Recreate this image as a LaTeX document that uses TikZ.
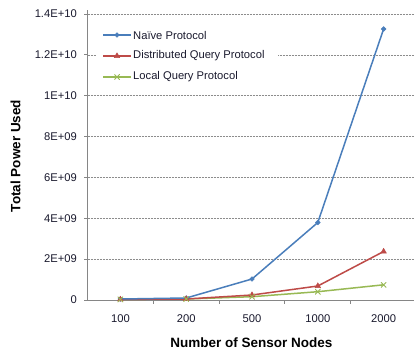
\documentclass[tikz,border=0pt]{standalone}
\usepackage{fontspec}
\setmainfont{Liberation Sans}
\usetikzlibrary{shapes.geometric}
\definecolor{cblue}{HTML}{4A7EBB}
\definecolor{cred}{HTML}{BE4B48}
\definecolor{cgreen}{HTML}{98B954}
\definecolor{caxis}{HTML}{868686}
\definecolor{cgrid}{HTML}{8C8C8C}
\definecolor{ctext}{HTML}{1A1A2E}
\tikzset{
  grid/.style={draw=cgrid, dash pattern=on 2pt off 1pt, line width=0.6pt},
  axisline/.style={draw=caxis, line width=0.9pt},
  ticklab/.style={font=\fontsize{11.2}{13}\selectfont, text=ctext, inner sep=0pt},
  axtitle/.style={font=\bfseries\fontsize{13.5}{15}\selectfont, text=black, inner sep=0pt},
  legtext/.style={font=\fontsize{11.2}{13}\selectfont, text=ctext, anchor=west, inner sep=0pt},
  sblue/.style={draw=cblue, line width=1.5pt, line join=round},
  sred/.style={draw=cred, line width=1.5pt, line join=round},
  sgreen/.style={draw=cgreen, line width=1.5pt, line join=round},
  mdia/.style={diamond, fill=cblue, draw=cblue, inner sep=0pt, minimum size=5pt},
  mtri/.style={regular polygon, regular polygon sides=3, fill=cred, draw=cred, inner sep=0pt, minimum size=6.5pt},
  mx/.style={inner sep=0pt, minimum size=5.5pt, path picture={
      \draw[cgreen, line width=0.9pt] (path picture bounding box.south west) -- (path picture bounding box.north east)
      (path picture bounding box.north west) -- (path picture bounding box.south east);}},
}
\begin{document}
\begin{tikzpicture}[x=1pt,y=-1pt]
\useasboundingbox[fill=white] (0,0) rectangle (414,356);
% gridlines
\foreach \yy in {14,54.9,95.7,136.6,177.4,218.3,259.1}
  \draw[grid] (87.5,\yy) -- (414,\yy);
% legend background
\fill[white] (96,23) rectangle (278,88);
% axes
\draw[axisline] (87.5,10) -- (87.5,300);
\draw[axisline] (84,300) -- (414,300);
\foreach \yy in {14,54.9,95.7,136.6,177.4,218.3,259.1}
  \draw[axisline] (84,\yy) -- (87.5,\yy);
\foreach \xx in {153.3,219.1,284.9,350.7}
  \draw[axisline] (\xx,300) -- (\xx,304);
% y labels
\node[ticklab, anchor=east] (y0) at (77,300) {0};
\node[ticklab, anchor=east] (y1) at (77,259.1) {2E+09};
\node[ticklab, anchor=east] (y2) at (77,218.3) {4E+09};
\node[ticklab, anchor=east] (y3) at (77,177.4) {6E+09};
\node[ticklab, anchor=east] (y4) at (77,136.6) {8E+09};
\node[ticklab, anchor=east] (y5) at (77,95.7) {1E+10};
\node[ticklab, anchor=east] (y6) at (77,54.9) {1.2E+10};
\node[ticklab, anchor=east] (y7) at (77,14) {1.4E+10};
% x labels
\node[ticklab] (x1) at (120.4,319) {100};
\node[ticklab] (x2) at (186.2,319) {200};
\node[ticklab] (x3) at (252,319) {500};
\node[ticklab] (x4) at (317.8,319) {1000};
\node[ticklab] (x5) at (383.6,319) {2000};
% titles
\node[axtitle] (xt) at (251.5,343) {Number of Sensor Nodes};
\node[axtitle, rotate=90] (yt) at (15.5,156) {Total Power Used};
% series
\draw[sgreen] (120.4,299.4) -- (186.2,299) -- (252,296.7) -- (317.8,291.7) -- (383.6,284.8);
\draw[sred] (120.4,299.4) -- (186.2,299) -- (252,295) -- (317.8,286) -- (383.6,251.5);
\draw[sblue] (120.4,299) -- (186.2,298) -- (252,279) -- (317.8,222.5) -- (383.6,29);
\foreach \xx/\yy in {120.4/299,186.2/298,252/279,317.8/222.5,383.6/29}
  \node[mdia] at (\xx,\yy) {};
\foreach \xx/\yy in {120.4/299.4,186.2/299,252/295,317.8/286,383.6/251.5}
  \node[mtri] at (\xx,\yy) {};
\foreach \xx/\yy in {120.4/299.4,186.2/299,252/296.7,317.8/291.7,383.6/284.8}
  \node[mx] at (\xx,\yy) {};
% legend
\coordinate (la1) at (103,35); \coordinate (lb1) at (131,35);
\coordinate (la2) at (103,56); \coordinate (lb2) at (131,56);
\coordinate (la3) at (103,77); \coordinate (lb3) at (131,77);
\draw[sblue] (la1) -- (lb1);
\node[mdia] (lm1) at (117,35) {};
\draw[sred] (la2) -- (lb2);
\node[mtri] (lm2) at (117,56) {};
\draw[sgreen] (la3) -- (lb3);
\node[mx] (lm3) at (117,77) {};
\node[legtext] (l1) at (133,35) {Naïve Protocol};
\node[legtext] (l2) at (133,56) {Distributed Query Protocol};
\node[legtext] (l3) at (133,77) {Local Query Protocol};
\end{tikzpicture}
\end{document}
